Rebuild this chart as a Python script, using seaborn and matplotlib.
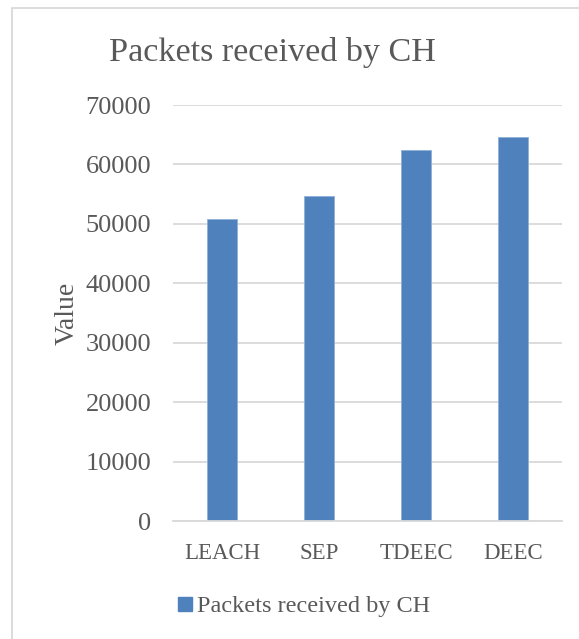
import matplotlib
matplotlib.use("Agg")
import matplotlib.pyplot as plt
import seaborn as sns
import pandas as pd
from matplotlib.lines import Line2D
from matplotlib.patches import Rectangle

categories = ["LEACH", "SEP", "TDEEC", "DEEC"]
values = [50800, 54650, 62400, 64600]
series_name = "Packets received by CH"
yticks = [0, 10000, 20000, 30000, 40000, 50000, 60000, 70000]

sns.set_theme(style="white")
plt.rcParams['font.family'] = ['Liberation Serif', 'DejaVu Serif']

TXT = "#595959"
GRID = "#D9D9D9"
BAR = "#4F81BD"

df = pd.DataFrame({"cat": categories, "val": values})

fig = plt.figure(figsize=(5.79, 6.39), dpi=100)
W, H = 579, 639
ax = fig.add_axes([173.5 / W, (H - 521) / H, (561.7 - 173.5) / W, (521 - 105) / H])

sns.barplot(data=df, x="cat", y="val", color=BAR, saturation=1, width=0.31,
            ax=ax, edgecolor="#8FB0DA", linewidth=0.6)

ax.set_ylim(0, 70000)
ax.set_yticks(yticks)
ax.set_yticklabels([str(t) for t in yticks])
ax.yaxis.grid(True, color=GRID, linewidth=1.3)
ax.set_axisbelow(True)
for s in ["top", "right", "left"]:
    ax.spines[s].set_visible(False)
ax.spines["bottom"].set_color(GRID)
ax.spines["bottom"].set_linewidth(1.3)
ax.tick_params(axis="both", length=0, colors=TXT)
ax.tick_params(axis="y", pad=16, labelsize=19)
ax.tick_params(axis="x", pad=16, labelsize=16.5)
ax.set_xlabel("")
ax.set_ylabel("Value", fontsize=20, color=TXT, labelpad=4)

fig.text(272 / W, (H - 52) / H, "Packets received by CH", ha="center", va="center",
         fontsize=24.6, color=TXT)

handle = Line2D([], [], marker="s", linestyle="none", markersize=10,
                markerfacecolor=BAR, markeredgecolor=BAR)
fig.legend([handle], [series_name], loc="center", bbox_to_anchor=(303 / W, (H - 606) / H),
           frameon=False, fontsize=17.5, labelcolor=TXT, handletextpad=0.1,
           handlelength=0.8)

fig.patches.append(Rectangle((12 / W, -0.05), 1.0, 0.05 + (H - 8) / H,
                             transform=fig.transFigure, fill=False,
                             edgecolor=GRID, linewidth=1.3))

fig.savefig("out.png", dpi=100)
